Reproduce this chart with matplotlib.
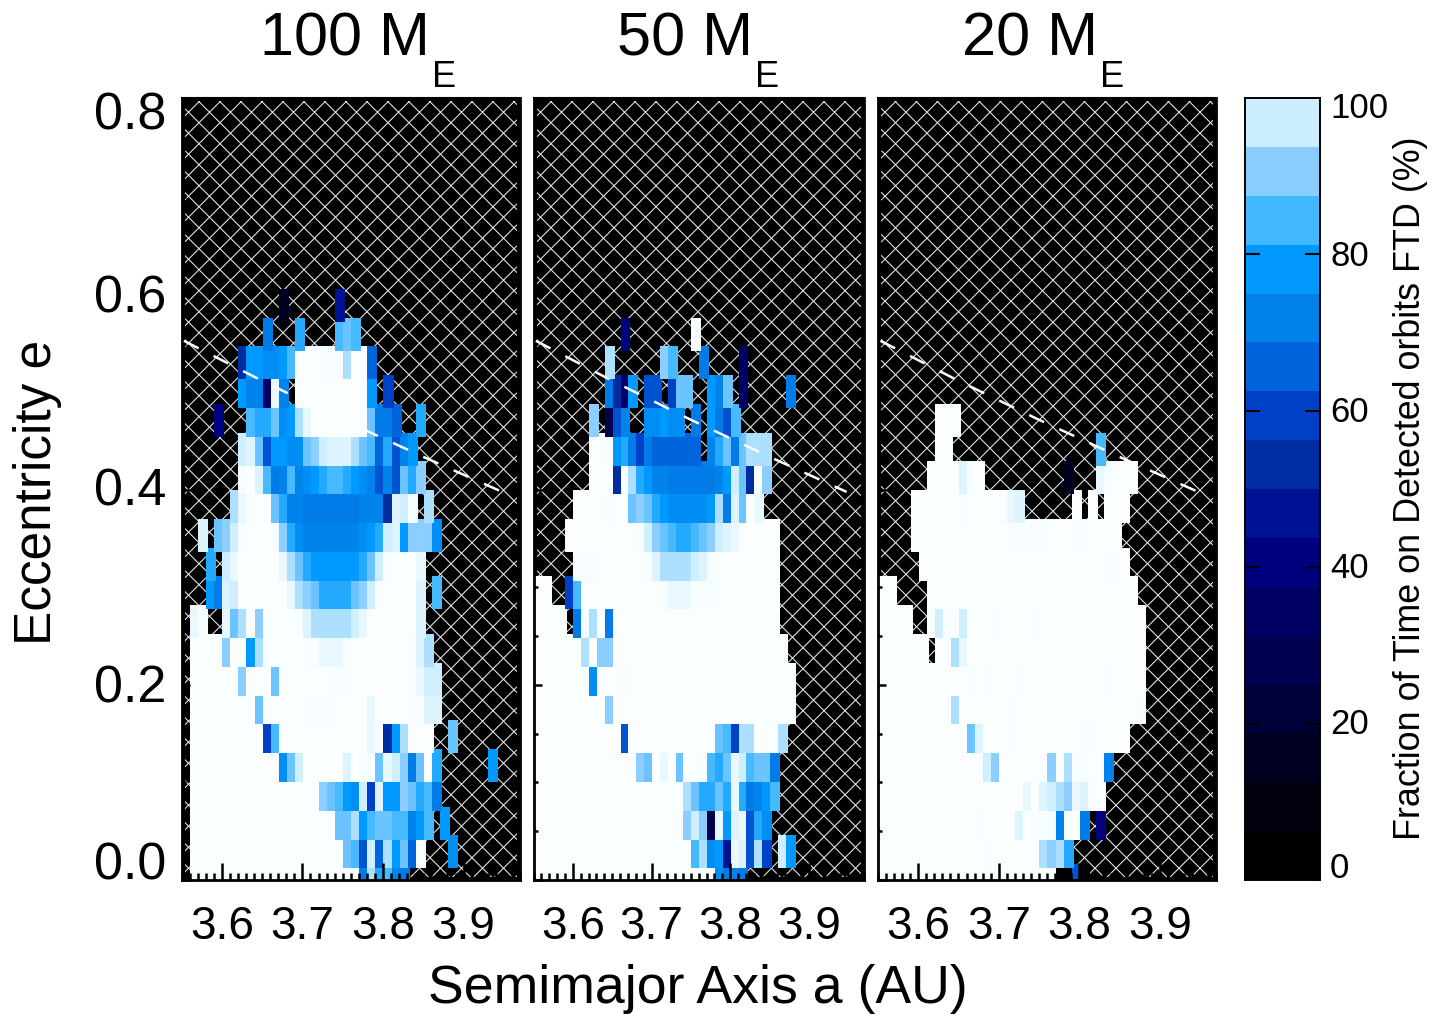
"""Fraction of time on detected orbits for three perturber masses."""

import matplotlib
matplotlib.use('Agg')
import matplotlib.pyplot as plt
from matplotlib.collections import LineCollection
from matplotlib.colors import LinearSegmentedColormap, Normalize
from matplotlib.ticker import MultipleLocator
from matplotlib.transforms import Bbox, IdentityTransform
import numpy as np

plt.rcParams['font.family'] = ['Liberation Sans', 'DejaVu Sans']

W, H = 1455, 1017

# percent for each letter used in the maps below
LEVELS = {
    'W': 100.0, 'w': 99.7, 'v': 98.8, 'u': 98.0, 't': 97.0, 's': 94.0, 'r': 91.0, 'q': 88.0,
    'p': 85.0, 'o': 81.5, 'n': 78.0, 'm': 75.0, 'l': 72.0, 'k': 70.5, 'j': 65.6, 'i': 62.5,
    'h': 59.4, 'g': 53.0, 'f': 47.0, 'e': 41.0, 'd': 35.0, 'c': 28.0, 'b': 16.0, 'a': 3.0,
}

CBAR_VALUES = [0, 3.1, 9.4, 15.6, 21.9, 28.1, 34.4, 40.6, 46.9, 53.1, 59.4, 65.6, 71.9, 78.1, 84.4, 90.6, 96.9, 100]
CBAR_COLORS = ['#000000', '#000000', '#00000F', '#000020', '#000038', '#000050', '#000062', '#00007F',
               '#001294', '#002CA2', '#0040C6', '#0064DC', '#0082EA', '#0099FF', '#40B8FF', '#88CCFF',
               '#CCEEFF', '#FBFEFF']

# one string per eccentricity row, lowest first; first character is the column left of 3.56 AU
MAP_100 = [
    '.WWWWWWWWW WWWWWWWWWW WWksoplk',
    '.WWWWWWWWW WWWWWWWWWW qpitjsnqjW ...m',
    '.WWWWWWWWW WWWWWWWWWq qsnpqqppln p.n',
    '.WWWWWWWWW WWWWWWWrqp nmthunnrqo pk',
    '.WWWWWWWWW WWmqtWWWWW uWwwqvtrkq Wo......n',
    '.WWWWWWWWW hpWWWWWWWW WWWvwgnsWW W..q',
    '.WWWWWWWWq WWWWWwwwwW WWWvWWWWww uu',
    '.WWWWWWrWW WqWWWWWWww wWWWWWWWwv tt',
    '.WWWWrWWns wWWWWwwvvv wWWWWWWWwu s',
    '.vw..vqsWr wWWWwussss stvWWWWWWu',
    '...nkutWWW WWWvsrqooo oqrtwWWWWu .p',
    '...o.tvWWW WWvsqonnnn nnoqtwWWWv',
    '..u.qrtwWW Wwromlllll llmnotunrr rm',
    '......svwW Wqollkkkkk kklllgutw. s',
    '.......wWu pklplmnopp onmliliqor',
    '.......tuq innmmqrtuu usqpjoiln',
    '....e...po oqmnsvWWWW WWWqkkj..o',
    '.......nll dvl.WWWWWW WWWn.h',
    '.......gnn mmnpWWWwww sWWj',
    '.......... k...o....p qp',
    '.......... ..b......f',
]

MAP_50 = [
    'WWWWWWWWWW WWWWWWWWWW WWWmklk',
    'WWWWWWWWWW WWWWWWWWWW psmnfvuish .tn',
    'WWWWWWWWWW WWWWWWWWWr trcvnuviom',
    'WWWWWWWWWW WWWWWWWWWs qooqovokln p',
    'WWWWWWWWWW WWWrqWvWqW Wwpoqvtpqq k',
    'WWWWWWWWWW WiWWWWWWWW WWWqphssWW Ws',
    'WWWWWWWWWr WWWWWWWWWW WWWWWWWWWW WWW',
    'WWWWWWWmWW WwWWWWWWWW WWWWWWWWWW WWW',
    'WWWWWWsWrr WWWWWWWWWW WWWWWWWWWW WW',
    'WWWW.kwsWk WWWWWWWWWW WWWWWWWWWW W',
    'WW..hpWWWW WWWWWWwvvv wwwWWWWWWW W',
    '.....wwwWW WWWWwussss tuwWWWWWWW W',
    '....WWWWWW WWWwtrqpoo pqrtuvWWWW W',
    '.....WWWWw WWqrqonmmm mmnskuqWv',
    '.......WWW gWsonllkkk kkklntqgWr',
    '.......WWw nokhkjjjjj j.loqkqsss',
    '.......r.c il..mmnmm. k.nkip',
    '.........k gdn.ii.hqq ..nlq.d... ..k',
    '.........s ......rp.. .k....d',
    '.......... .e........ w',
]

MAP_20 = [
    'WWWWWWWWWW WWWWWWWWWW WWaaia',
    'WWWWWWWWWW WWWwWWWWWW srso',
    'WWWWWWWWWW WWwWWWWuWw wwlwWk.e',
    'WWWWWWWWWW WWWWWWWWvW utsrvuwW',
    'WWWWWWWWWW WWWtrWWWWW WrWswwWWl',
    'WWWWWWWWWW WquWWWwWWW WWWWWwwWWW W',
    'WWWWWWWWWs WWWWWWwWWW WWWWWWWWWW WWw',
    'WWWWWWWWWW WwWwWWWwWW WWWWWWWWwW WWW',
    'WWWWWW.WWs vWWWWWWWWW WWWWWWWWWW WWW',
    'WWWW..WtwW tWWWwWWWWw WWWWWWWWWW WWW',
    'WW....WWWW WWWWWWWWWW WWWWWWWWWW WW',
    '.....WWWWW WWWWWWWWWW WWWWWWWWww W',
    '....WWWWWW WWWWWWwwww wWWWwwWWWW',
    '....WWWWWW wWWWWwvu.. ....W.W.WW W',
    '......WWWW uwW....... ...b...vwW WW',
    '.......WW. .......... .......p',
    '.......WWW',
]

TITLES = ['100 M', '50 M', '20 M']
MAPS = [MAP_100, MAP_50, MAP_20]

# dashed limit curve
LIMIT_A = [3.553, 3.65, 3.75, 3.85, 3.948]
LIMIT_E = [0.553, 0.512, 0.472, 0.434, 0.398]

Y_LABELS = ['0.8', '0.6', '0.4', '0.2', '0.0']
CBAR_LABELS = ['100', '80', '60', '40', '20', '0']

CMAP = LinearSegmentedColormap.from_list('ftd', [(v / 100.0, c) for v, c in zip(CBAR_VALUES, CBAR_COLORS)], N=1024)
NORM = Normalize(0, 100)

A_START = 3.5506   # left edge of the first map column
A_STEP = 0.01
E_START = -0.0175  # lower edge of the first map row
E_STEP = 0.0295
CELL_W = 0.0125
CELL_H = 0.0338


def px_axes(fig, left, right, top, bottom):
    return fig.add_axes([left / W, 1 - bottom / H, (right - left) / W, (bottom - top) / H])


def fig_text(fig, x, y, s, **kw):
    return fig.text(x / W, 1 - y / H, s, **kw)


def draw_crosshatch(ax, left, right, top, bottom):
    """White diagonal mesh on the black background, 21 px apart."""
    step = 21.0
    x0, x1 = left + 3, right - 3
    y0, y1 = H - bottom + 3, H - top - 3
    segs = []
    phase = left + 17.5 + (H - 101.7)
    for c in np.arange(phase - 60 * step, phase + 60 * step, step):
        segs.append([(x0, c - x0), (x1, c - x1)])
    phase = left + 17.5 - (H - 101.7)
    for c in np.arange(phase - 80 * step, phase + 60 * step, step):
        segs.append([(x0, x0 - c), (x1, x1 - c)])
    lines = LineCollection(segs, colors='#ececec', linewidths=0.75, transform=IdentityTransform(), zorder=1)
    ax.add_collection(lines, autolim=False)
    lines.set_clip_box(Bbox([[x0, y0], [x1, y1]]))


def draw_map(ax, rows):
    for i, row in enumerate(rows):
        codes = row.replace(' ', '')
        cols = [j for j, c in enumerate(codes) if c != '.']
        lefts = [A_START + A_STEP * j for j in cols]
        colors = [CMAP(NORM(LEVELS[codes[j]])) for j in cols]
        ax.bar(lefts, CELL_H, width=CELL_W, bottom=E_START + E_STEP * i, align='edge',
               color=colors, linewidth=0, zorder=2)


def make_panel(fig, box, rows):
    ax = px_axes(fig, *box)
    ax.set_facecolor('black')
    ax.set_axisbelow(False)
    draw_crosshatch(ax, *box)
    draw_map(ax, rows)
    ax.plot(LIMIT_A, LIMIT_E, color='white', lw=1.8, ls=(0, (6.6, 6.7)), zorder=3)
    ax.set_xlim(3.55, 3.97)
    ax.set_ylim(0, 0.802)
    ax.xaxis.set_major_locator(MultipleLocator(0.1))
    ax.xaxis.set_minor_locator(MultipleLocator(0.01))
    ax.yaxis.set_major_locator(MultipleLocator(0.2))
    ax.yaxis.set_minor_locator(MultipleLocator(0.05))
    ax.tick_params(axis='x', which='major', direction='in', length=12, width=1.8, labelsize=33, pad=18)
    ax.tick_params(axis='x', which='minor', direction='in', length=5, width=1.8)
    ax.tick_params(axis='y', which='major', direction='in', length=6, width=1.8, labelleft=False)
    ax.tick_params(axis='y', which='minor', direction='in', length=3, width=1.8)
    ax.xaxis.set_major_formatter(lambda v, pos: f'{v:.1f}' if v < 3.95 and v > 3.55 else '')
    for spine in ax.spines.values():
        spine.set_linewidth(2.0)
    ax.spines['top'].set_linewidth(1.5)
    return ax


def main():
    fig = plt.figure(figsize=(W / 100, H / 100), dpi=100)

    boxes = [(181.5, 520, 98, 880), (533.5, 864, 98, 880), (878, 1216, 98, 880)]
    for box, rows in zip(boxes, MAPS):
        make_panel(fig, box, rows)

    # titles are set by hand so the subscript sits where it does in the original
    for title, right in zip(TITLES, [430, 753, 1098]):
        fig_text(fig, right, 56, title, fontsize=44, ha='right', va='baseline')
        fig_text(fig, right + 2, 87, 'E', fontsize=26, ha='left', va='baseline')

    for label, y in zip(Y_LABELS, [116, 299, 492, 689, 866]):
        fig_text(fig, 166, y, label, fontsize=37.5, ha='right', va='center')
    fig_text(fig, 38, 492, 'Eccentricity e', fontsize=37, rotation=90, ha='center', va='center')
    fig_text(fig, 698, 1003, 'Semimajor Axis a (AU)', fontsize=38.6, ha='center', va='baseline')

    # colour bar
    cax = px_axes(fig, 1245, 1320, 98, 880)
    edges = np.linspace(0, 100, 17)
    mids = 0.5 * (edges[:-1] + edges[1:])
    cax.pcolormesh([0, 1], edges, mids.reshape(-1, 1), cmap=CMAP, norm=NORM)
    cax.set_xticks([])
    cax.set_yticks([20, 40, 60, 80])
    cax.tick_params(axis='y', direction='in', length=11, width=1.5, left=True, right=True, labelleft=False)
    for spine in cax.spines.values():
        spine.set_linewidth(1.4)
    for label, y in zip(CBAR_LABELS, [109, 257, 413, 569, 725, 869]):
        fig_text(fig, 1330, y, label, fontsize=25, ha='left', va='center')
    fig_text(fig, 1410, 488, 'Fraction of Time on Detected orbits FTD (%)', fontsize=25.8,
             rotation=90, ha='center', va='center')

    fig.savefig('out.png', dpi=100)


if __name__ == '__main__':
    main()
